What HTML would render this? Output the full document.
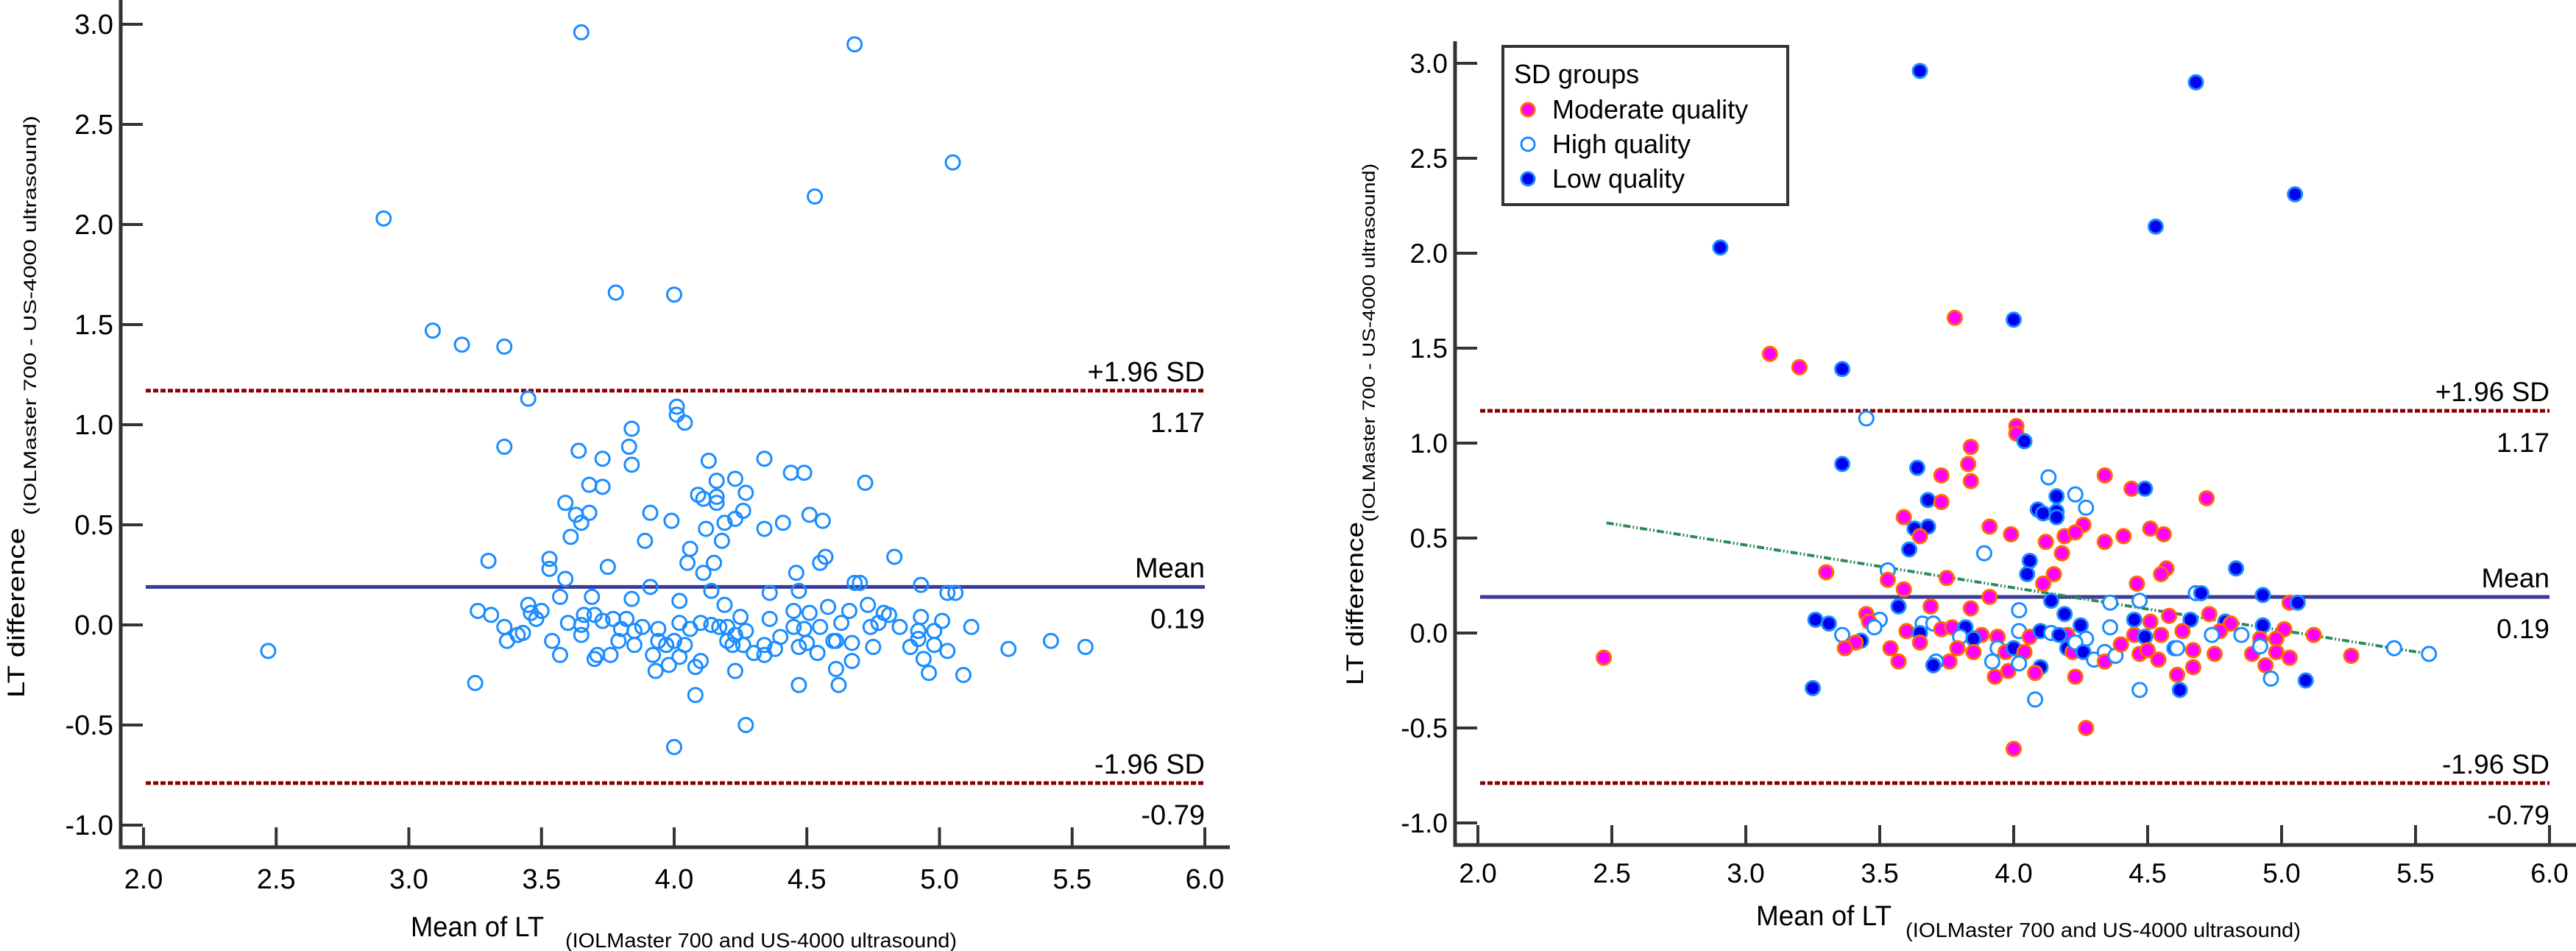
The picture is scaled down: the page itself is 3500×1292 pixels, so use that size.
<!DOCTYPE html>
<html><head><meta charset="utf-8"><title>Bland-Altman plots</title>
<style>
html,body{margin:0;padding:0;background:#fff;}
svg{display:block;font-family:"Liberation Sans",Arial,sans-serif;}
</style></head>
<body>
<svg id="fig" width="3500" height="1292" viewBox="0 0 3500 1292" xmlns="http://www.w3.org/2000/svg">
<g id="left"></g>
<g id="right"></g>
</svg>
<script>
const meanX = [
2.905,3.65,4.68,5.05,4.53,3.78,4.00,3.09,3.20,3.36,
3.45,4.01,4.01,4.04,3.84,3.36,3.83,3.64,4.13,3.73,
4.34,3.84,4.44,4.49,4.23,4.16,3.68,3.73,4.72,4.27,
4.09,4.11,4.16,4.16,3.59,3.63,3.68,3.91,4.26,4.51,
3.65,3.99,4.19,4.56,4.41,4.34,4.12,4.23,4.18,3.61,
3.89,4.06,4.05,4.15,4.57,4.55,4.83,3.30,3.53,3.53,
3.75,3.59,4.11,4.46,4.14,4.68,4.70,4.93,3.91,4.36,
4.47,3.57,3.69,5.03,5.06,4.02,3.84,4.19,3.45,4.58,
4.73,3.26,3.31,3.50,3.46,4.45,4.51,4.66,4.79,4.81,
4.25,3.48,3.66,3.70,3.73,3.77,3.82,4.02,3.60,4.93,
5.01,5.12,4.36,4.63,4.77,3.36,3.43,3.65,3.80,3.88,
3.94,4.06,4.10,4.14,4.20,4.17,4.27,4.45,4.49,4.55,
4.74,4.85,4.92,4.98,3.85,3.41,3.37,3.54,3.65,3.79,
3.94,3.85,3.97,4.00,4.04,4.20,4.22,4.23,4.26,4.30,
4.34,4.34,4.38,4.40,4.47,4.50,4.54,4.60,4.61,4.67,
4.75,4.89,4.98,5.03,4.92,5.26,5.42,5.55,2.47,3.57,
3.76,3.71,3.70,3.92,3.98,4.10,4.08,4.02,3.93,4.23,
4.94,4.67,4.61,4.96,5.09,3.25,4.47,4.62,4.08,4.27,
4.00];
const diffY = [
2.03,2.96,2.90,2.31,2.14,1.66,1.65,1.47,1.40,1.39,
1.13,1.09,1.05,1.01,0.98,0.89,0.89,0.87,0.82,0.83,
0.83,0.80,0.76,0.76,0.73,0.72,0.70,0.69,0.71,0.66,
0.65,0.63,0.64,0.61,0.61,0.55,0.56,0.56,0.57,0.55,
0.51,0.52,0.51,0.52,0.51,0.48,0.48,0.53,0.42,0.44,
0.42,0.38,0.31,0.31,0.34,0.31,0.34,0.32,0.33,0.28,
0.29,0.23,0.26,0.26,0.17,0.21,0.21,0.20,0.19,0.16,
0.17,0.14,0.14,0.16,0.16,0.12,0.13,0.10,0.10,0.09,
0.10,0.07,0.05,0.07,0.06,0.07,0.06,0.07,0.06,0.05,
0.04,0.03,0.05,0.05,0.02,0.03,0.03,0.01,0.01,0.04,
0.02,-0.01,0.03,0.01,0.01,-0.01,-0.04,0.00,-0.02,-0.01,
-0.02,-0.02,0.01,0.00,-0.01,-0.01,-0.03,-0.01,-0.02,-0.01,
-0.01,-0.01,-0.03,-0.03,-0.03,-0.05,-0.08,-0.08,-0.05,-0.08,
-0.08,-0.10,-0.10,-0.08,-0.10,-0.08,-0.10,-0.05,-0.10,-0.14,
-0.10,-0.15,-0.12,-0.06,-0.11,-0.09,-0.14,-0.08,-0.08,-0.09,
-0.11,-0.11,-0.10,-0.13,-0.07,-0.12,-0.08,-0.11,-0.13,-0.15,
-0.15,-0.15,-0.17,-0.15,-0.20,-0.18,-0.21,-0.16,-0.23,-0.23,
-0.17,-0.18,-0.22,-0.24,-0.25,-0.29,-0.30,-0.30,-0.35,-0.50,
-0.61];
const groups = [
"L","L","L","L","L","M","L","M","M","L",
"H","M","M","L","M","L","M","L","H","M",
"M","M","M","L","H","L","L","M","M","H",
"L","L","L","L","M","L","L","M","M","M",
"M","M","M","M","M","M","M","M","M","L",
"H","L","L","M","M","M","L","M","H","M",
"M","M","M","M","L","H","L","L","M","H",
"H","L","M","M","L","H","M","L","M","M",
"M","L","L","H","M","L","M","L","L","M",
"L","H","H","H","M","M","L","H","M","L",
"M","M","H","M","M","H","L","L","H","M",
"M","M","L","H","M","L","H","M","L","M",
"H","H","M","M","L","M","M","M","M","M",
"H","M","M","L","M","L","M","H","L","H",
"H","M","H","M","M","M","M","L","H","M",
"M","M","M","M","H","M","H","H","M","M",
"M","H","L","H","M","L","M","H","M","M",
"M","M","M","H","L","L","H","L","H","M",
"M"];
const xTicks = [2.0,2.5,3.0,3.5,4.0,4.5,5.0,5.5,6.0];
const yTicks = [3.0,2.5,2.0,1.5,1.0,0.5,0.0,-0.5,-1.0];
const meanDiff = 0.19, upperLoA = 1.17, lowerLoA = -0.79;
const trendStart = [2.48,0.58], trendEnd = [5.55,-0.11];

const NS = "http://www.w3.org/2000/svg";
function mk(parent, tag, attrs, text){
  const e = document.createElementNS(NS, tag);
  for (const k in attrs) e.setAttribute(k, attrs[k]);
  if (text !== undefined) e.textContent = text;
  parent.appendChild(e);
  return e;
}

function drawChart(g, cfg){
  const sx = v => cfg.x0 + (v - 2) * cfg.xu;
  const sy = v => cfg.y0 + (3 - v) * cfg.yu;
  const xR = sx(6);
  let a = mk(g,'line',{x1:cfg.axX,y1:cfg.axTop,x2:cfg.axX,y2:cfg.axY+2.5,stroke:'#333',"stroke-width":5});
   
  a = mk(g,'line',{x1:cfg.axX-2.5,y1:cfg.axY,x2:cfg.axRight,y2:cfg.axY,stroke:'#333',"stroke-width":5});
   
  yTicks.forEach(v=>{
    const t = mk(g,'line',{x1:cfg.axX,y1:sy(v),x2:cfg.axX+30,y2:sy(v),stroke:'#333',"stroke-width":4});
     
    const l = mk(g,'text',{x:cfg.axX-10,y:sy(v)+13,"font-size":cfg.fs,"text-anchor":"end",fill:'#000'}, v.toFixed(1));
     
  });
  xTicks.forEach(v=>{
    const t = mk(g,'line',{x1:sx(v),y1:cfg.axY,x2:sx(v),y2:cfg.axY-27,stroke:'#333',"stroke-width":4});
     
    const l = mk(g,'text',{x:sx(v),y:cfg.xLabY,"font-size":cfg.fs,"text-anchor":"middle",fill:'#000'}, v.toFixed(1));
     
  });
  [[upperLoA,'upper-limit-line','+1.96 SD'],[lowerLoA,'lower-limit-line','-1.96 SD']].forEach(r=>{
    const ln = mk(g,'line',{x1:sx(2)+3,y1:sy(r[0]),x2:xR,y2:sy(r[0]),stroke:'#8b0000',"stroke-width":5,"stroke-dasharray":"7 3"});
     
    const t1 = mk(g,'text',{x:xR,y:sy(r[0])-13,"font-size":cfg.fs,"text-anchor":"end"}, r[2]);
     
    const t2 = mk(g,'text',{x:xR,y:sy(r[0])+56,"font-size":cfg.fs,"text-anchor":"end"}, r[0].toFixed(2));
     
  });
  const ml = mk(g,'line',{x1:sx(2)+3,y1:sy(meanDiff),x2:xR,y2:sy(meanDiff),stroke:'#3a3a9a',"stroke-width":5});
   
  const mt = mk(g,'text',{x:xR,y:sy(meanDiff)-13,"font-size":cfg.fs,"text-anchor":"end"}, 'Mean');
   
  const mv = mk(g,'text',{x:xR,y:sy(meanDiff)+56,"font-size":cfg.fs,"text-anchor":"end"}, meanDiff.toFixed(2));
   
  if (cfg.grouped){
    const tl = mk(g,'line',{x1:sx(trendStart[0]),y1:sy(trendStart[1]),x2:sx(trendEnd[0]),y2:sy(trendEnd[1]),stroke:'#2e8b57',"stroke-width":4,"stroke-dasharray":"10 3 2 3 2 3"});
     
  }
  meanX.forEach((xv,i)=>{
    let fill='none', stroke='#1a8cff';
    if (cfg.grouped){
      if (groups[i]==='M'){fill='#ff00ff';stroke='#ff6a00';}
      else if (groups[i]==='L'){fill='#0000ee';stroke='#1a8cff';}
      else {fill='#fff';}
    }
    const c = mk(g,'circle',{cx:sx(xv),cy:sy(diffY[i]),r:9.5,fill:fill,stroke:stroke,"stroke-width":3});
     
  });
  const yt = mk(g,'text',{transform:`translate(${cfg.ytX},${cfg.ytY0}) rotate(-90)`,"font-size":32,textLength:cfg.ytLen,lengthAdjust:"spacingAndGlyphs"}, 'LT difference');
   
  const ys = mk(g,'text',{transform:`translate(${cfg.ysX},${cfg.ysY0}) rotate(-90)`,"font-size":24,textLength:cfg.ysLen,lengthAdjust:"spacingAndGlyphs"}, '(IOLMaster 700 - US-4000 ultrasound)');
   
  const xt = mk(g,'text',{x:cfg.xtX,y:cfg.xtY,"font-size":38,textLength:cfg.xtLen,lengthAdjust:"spacingAndGlyphs"}, 'Mean of LT');
   
  const xs = mk(g,'text',{x:cfg.xsX,y:cfg.xsY,"font-size":28,textLength:cfg.xsLen,lengthAdjust:"spacingAndGlyphs"}, '(IOLMaster 700 and US-4000 ultrasound)');
   
}

drawChart(document.getElementById('left'),{
  x0:195,xu:360.5,y0:33,yu:272,axX:164,axTop:0,axY:1151,axRight:1671,fs:38,xLabY:1207,grouped:false,
  ytX:33,ytY0:948,ytLen:231,ysX:49,ysY0:700,ysLen:543,
  xtX:558,xtY:1272,xtLen:181,xsX:768,xsY:1287,xsLen:532
});
drawChart(document.getElementById('right'),{
  x0:2008,xu:364,y0:86,yu:258,axX:1977,axTop:56,axY:1148,axRight:3500,fs:37,xLabY:1199,grouped:true,
  ytX:1852,ytY0:931,ytLen:222,ysX:1868,ysY0:709,ysLen:487,
  xtX:2386,xtY:1257,xtLen:184,xsX:2589,xsY:1273,xsLen:537
});

const R = document.getElementById('right');
const lg = mk(R,'g',{});
 
const box = mk(lg,'rect',{x:2042,y:63,width:387,height:215,fill:'#fff',stroke:'#333',"stroke-width":4});
 
const lt = mk(lg,'text',{x:2057,y:113,"font-size":36}, 'SD groups');
 
const legItems = [['Moderate quality','#ff00ff','#ff6a00',161],['High quality','#fff','#1a8cff',208],['Low quality','#0000ee','#1a8cff',255]];
legItems.forEach(it=>{
  const m = mk(lg,'circle',{cx:2076,cy:it[3]-12,r:9,fill:it[1],stroke:it[2],"stroke-width":3});
   
  const t = mk(lg,'text',{x:2109,y:it[3],"font-size":36}, it[0]);
   
});
</script>
</body></html>
